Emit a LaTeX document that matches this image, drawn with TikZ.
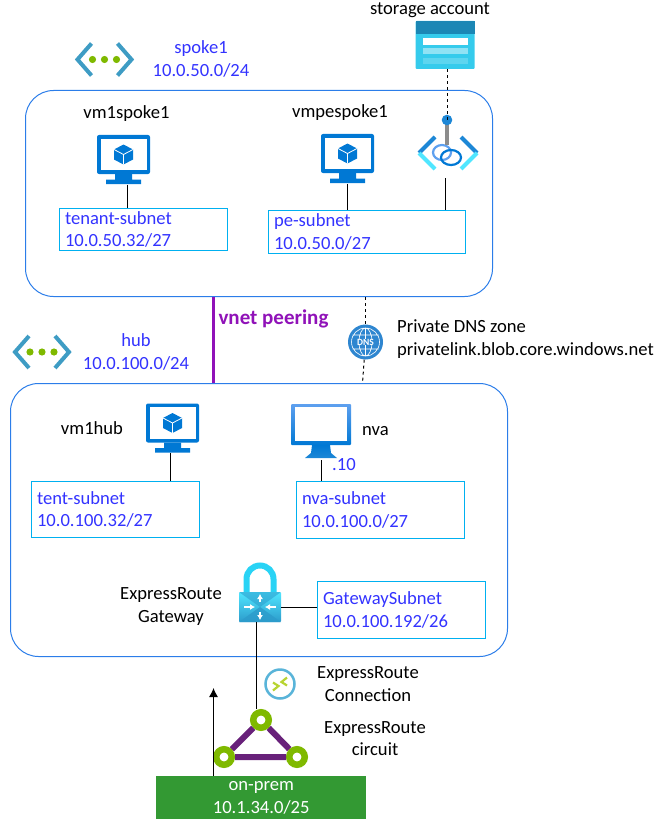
\documentclass[tikz,border=0pt]{standalone}
\usepackage{fontspec}
\setmainfont{Carlito}
\usetikzlibrary{calc,positioning,arrows.meta}

\definecolor{labelblue}{HTML}{3333FF}
\definecolor{subnetline}{HTML}{00B0F0}
\definecolor{vnetline}{HTML}{2B7DE9}
\definecolor{azureblue}{HTML}{0078D4}
\definecolor{peerpurple}{HTML}{9012B8}
\definecolor{circuitgreen}{HTML}{7FB900}
\definecolor{circuitpurple}{HTML}{68217A}
\definecolor{premgreen}{HTML}{339933}
\definecolor{vnetteal}{HTML}{3E9CC4}
\definecolor{skycyan}{HTML}{50E6FF}
\definecolor{midblue}{HTML}{1D87D6}
\definecolor{paleblue}{HTML}{5EA0EF}
\definecolor{storagebody}{HTML}{35CBEC}
\definecolor{storagehead}{HTML}{1B87B5}
\definecolor{dnsblue}{HTML}{2E86D0}
\definecolor{shackle}{HTML}{29D3F5}
\definecolor{gatedark}{HTML}{2C9BCB}
\definecolor{connring}{HTML}{59B4D9}
\definecolor{connarrow}{HTML}{B8D432}

\begin{document}
\begin{tikzpicture}[
    x=1pt,y=-1pt,
    every node/.style={font=\fontsize{18.6}{22.5}\selectfont,inner sep=0pt},
    txt/.style={align=center,text=black},
    bluetxt/.style={align=center,text=labelblue},
    subnet/.style={draw=subnetline,line width=1pt,anchor=north west,align=left,text=labelblue,inner xsep=5.5pt},
    vnet/.style={draw=vnetline,line width=1pt,rounded corners=28pt},
    iconbox/.style={minimum width=#1,minimum height=#1},
    ring/.style={circle,draw=circuitgreen,fill=white,line width=6.5pt,minimum size=15.5pt},
    vmicon/.pic={
      \fill[azureblue,rounded corners=2pt] (-26.5,-24.5) rectangle (26.5,14.5);
      \fill[white] (-23,-21) rectangle (23,10.5);
      \fill[azureblue] (-8.5,14.5) -- (8.5,14.5) -- (8.5,20) -- (17.5,20) -- (17.5,24.5) -- (-17.5,24.5) -- (-17.5,20) -- (-8.5,20) -- cycle;
      \fill[azureblue] (0,-15) -- (9.5,-10) -- (9.5,0) -- (0,5) -- (-9.5,0) -- (-9.5,-10) -- cycle;
      \draw[white,line width=.8pt] (0,5) -- (0,-5) -- (-9.5,-10) (0,-5) -- (9.5,-10);
    },
    nvaicon/.pic={
      \shade[top color=paleblue,bottom color=azureblue,rounded corners=1pt] (-30,-27) rectangle (30,14);
      \fill[white] (-26,-24) rectangle (26,10);
      \shade[top color=azureblue,bottom color=midblue] (-9,14) -- (9,14) -- (10,22) -- (16,27) -- (-16,27) -- (-10,22) -- cycle;
    },
    vneticon/.pic={
      \draw[vnetteal,line width=4pt] (-13,-16) -- (-27,0) -- (-13,16) (13,-16) -- (27,0) -- (13,16);
      \foreach \x in {-12,0,12}
        \fill[circuitgreen] (\x,0) circle[radius=3.6pt];
    },
    peicon/.pic={
      \draw[midblue,line width=4pt] (-13,-16) -- (-29,0) (13,-16) -- (29,0);
      \draw[skycyan,line width=4pt] (-29,0) -- (-13,16) (29,0) -- (13,16);
      \draw[paleblue,line width=2.2pt] (-6,-.5) ellipse[x radius=9pt,y radius=7.5pt];
      \draw[azureblue,line width=2.2pt] (3,4.5) ellipse[x radius=10pt,y radius=7.5pt];
    },
    storageicon/.pic={
      \fill[storagebody,rounded corners=1pt] (-29.5,-24) rectangle (29.5,24);
      \fill[storagehead] (-29.5,-24) rectangle (29.5,-11);
      \fill[white] (-22.5,-7) rectangle (22.5,0);
      \fill[white,opacity=.45] (-22.5,3) rectangle (22.5,9);
      \fill[white,opacity=.2] (-22.5,13) rectangle (22.5,19);
    },
    gwicon/.pic={
      \draw[shackle,line width=6pt] (-13.5,2) -- (-13.5,-13) arc[start angle=180,end angle=0,radius=13.5pt] -- (13.5,2);
      \shade[top color=skycyan,bottom color=gatedark,rounded corners=1pt] (-21,0) rectangle (21,30);
      \fill[gatedark,opacity=.55] (-21,0) -- (21,0) -- (0,15) -- cycle;
      \fill[gatedark,opacity=.8] (-21,30) -- (21,30) -- (0,15) -- cycle;
      \draw[white,line width=1.8pt,-{Latex[length=5pt,width=6pt]}] (-16,15) -- (-5,15);
      \draw[white,line width=1.8pt,-{Latex[length=5pt,width=6pt]}] (16,15) -- (5,15);
      \draw[white,line width=1.8pt,-{Latex[length=5pt,width=6pt]}] (0,10) -- (0,2);
      \draw[white,line width=1.8pt,-{Latex[length=5pt,width=6pt]}] (0,20) -- (0,28);
    },
    connicon/.pic={
      \draw[connring,line width=2.5pt,fill=white] (0,0) circle[radius=14.5pt];
      \draw[connarrow,line width=2.2pt] (-7,-1.5) -- (-1.5,2) -- (-7,6.5) (7,-6.5) -- (1.5,-2) -- (7,1.5);
    },
    dnsicon/.pic={
      \draw[white,line width=.6pt] (0,0) circle[radius=14pt] (0,0) ellipse[x radius=6.5pt,y radius=14pt] (-13,-7) -- (13,-7) (-13,7) -- (13,7) (0,-14) -- (0,14);
    }
    ]
    \useasboundingbox (0,0) rectangle (662,824);

    % vnets
    \node (spoke) [vnet,minimum width=467pt,minimum height=206pt,anchor=north west] at (25,90) {};
    \node (hub) [vnet,minimum width=497pt,minimum height=273pt,anchor=north west] at (10,383) {};

    \node (spokelabel) [bluetxt] at (201,59) {spoke1\\10.0.50.0/24};
    \node (hublabel) [bluetxt] at (136,352) {hub\\10.0.100.0/24};
    \pic at (104.5,59.5) {vneticon};
    \pic at (42,352) {vneticon};

    % vms
    \foreach \name/\x/\y in {vmtenant/123.5/159.5,vmpe/347.5/158.5,vmhub/172.5/428}{
      \node (\name) [iconbox=50pt] at (\x,\y) {};
      \pic at (\x,\y) {vmicon};
    }
    \node (nva) [minimum width=60pt,minimum height=56pt] at (321,432) {};
    \pic at (321,431) {nvaicon};

    \node (vmtenantlabel) [txt] at (126.5,114) {vm1spoke1};
    \node (vmpelabel) [txt] at (340,113) {vmpespoke1};
    \node (vmhublabel) [txt] at (92,428) {vm1hub};
    \node (nvalabel) [txt,anchor=west] at (362,431) {nva};
    \node (nvaip) [bluetxt,anchor=west] at (332,465) {.10};

    % subnets
    \node (tenant) [subnet,text width=157pt,minimum height=42pt] at (59,208) {tenant-subnet\\10.0.50.32/27};
    \node (pesubnet) [subnet,text width=186pt,minimum height=43pt] at (268,210) {pe-subnet\\10.0.50.0/27};
    \node (tent) [subnet,text width=157pt,minimum height=56pt] at (31,481) {tent-subnet\\10.0.100.32/27};
    \node (nvasubnet) [subnet,text width=157pt,minimum height=57pt] at (296,481) {nva-subnet\\10.0.100.0/27};
    \node (gwsubnet) [subnet,text width=157pt,minimum height=57pt] at (317,581) {GatewaySubnet\\10.0.100.192/26};

    % storage and private endpoint
    \node (storage) [iconbox=48pt,minimum width=59pt] at (445,45) {};
    \pic at (445,45) {storageicon};
    \node (storagelabel) [txt] at (430,10) {storage account};
    \node (pe) [minimum width=60pt,minimum height=40pt] at (448,158) {};
    \pic at (448,153) {peicon};
    \coordinate (pedot) at (447,120);
    \draw[gray!90,line width=4pt] (pedot) -- ++(0,25);
    \fill[midblue] (pedot) circle[radius=5.3pt];
    \draw[dashed,line width=1pt] (pedot |- storage.south) -- (pedot);

    % dns zone
    \node (dns) [circle,fill=dnsblue,minimum size=35pt] at (365.5,342) {};
    \pic at (365.5,342) {dnsicon};
    \node (dnstext) [font=\fontsize{9.5}{10}\selectfont\bfseries,text=white,fill=dnsblue,inner xsep=1pt] at (365.5,342) {DNS};
    \node (dnslabel) [txt,align=left,anchor=west] at (397,339) {Private DNS zone\\privatelink.blob.core.windows.net};
    \coordinate (dnsfoot) at (362.5,383);
    \draw[dashed,line width=1pt] (spoke.south -| dns) -- (dns);
    \draw[dashed,line width=1pt] (dns) -- (dnsfoot);

    % peering
    \coordinate (peerline) at (213,340);
    \draw[peerpurple,line width=3pt] (spoke.south -| peerline) -- (hub.north -| peerline);
    \node (peerlabel) [font=\fontsize{21}{24}\selectfont\bfseries,text=peerpurple] at (273.5,319) {vnet peering};

    % gateway
    \node (gw) [minimum width=42pt,minimum height=30pt] at (260,607) {};
    \pic at (260,592) {gwicon};
    \node (gwlabel) [txt] at (171,606.5) {ExpressRoute\\Gateway};

    % circuit
    \node (ctop) [ring] at (261,720) {};
    \node (cleft) [ring] at (224,757) {};
    \node (cright) [ring] at (297,757) {};
    \draw[circuitpurple,line width=6pt] (ctop) -- (cleft) -- (cright) -- (ctop);
    \pic at (280,684) {connicon};
    \node (connlabel) [txt] at (368,684) {ExpressRoute\\Connection};
    \node (circuitlabel) [txt] at (375,738.5) {ExpressRoute\\circuit};

    \node (onprem) [fill=premgreen,text=white,align=center,minimum width=210pt,minimum height=43pt,anchor=north west] at (156,776) {on-prem\\10.1.34.0/25};
    \coordinate (arrowtip) at (213.5,688);
    \draw[-{Latex[length=9pt,width=9pt]},line width=1pt] (onprem.north -| arrowtip) -- (arrowtip);

    % links
    \coordinate (gwdrop) at (256.5,640);
    \draw[line width=1pt] (vmtenant.south -| 127.5,0) -- (tenant.north -| 127.5,0);
    \draw[line width=1pt] (vmpe.south) -- (pesubnet.north -| vmpe);
    \draw[line width=1pt] (pe.south -| 445.5,0) -- (pesubnet.north -| 445.5,0);
    \draw[line width=1pt] (vmhub.south -| 170,0) -- (tent.north -| 170,0);
    \draw[line width=1pt] (nva.south) -- (nvasubnet.north -| nva);
    \draw[line width=1pt] (gw.east) -- (gwsubnet.west |- gw);
    \draw[line width=1pt] (gw.south -| gwdrop) -- (ctop.north -| gwdrop);

  \end{tikzpicture}
\end{document}
